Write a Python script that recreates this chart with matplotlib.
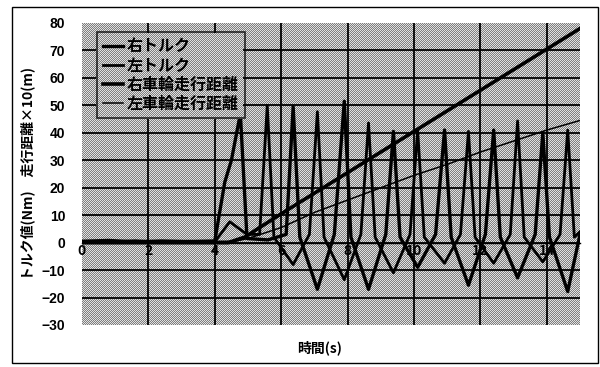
import numpy as np
import matplotlib
matplotlib.use("Agg")
import matplotlib.pyplot as plt
from matplotlib.patches import Rectangle

plt.rcParams['font.family'] = ['Noto Sans CJK JP', 'DejaVu Sans']
plt.rcParams['font.weight'] = 'bold'

# torque of the right wheel (s, Nm)
right_t = [0, 0.8, 1.6, 2.4, 3.2, 4.0, 4.3, 4.5, 4.77, 4.97, 5.6, 6.15, 6.36, 6.56,
           7.09, 7.6, 7.90, 8.10, 8.63, 9.15, 9.38, 9.58, 10.11, 10.65, 10.92, 11.12,
           11.64, 12.15, 12.40, 12.60, 13.12, 13.65, 13.88, 14.08, 14.63, 15.0]
right_torque = [0.5, 0.8, 0.3, 0.6, 0.4, 0.6, 22, 30, 47, 1.5, 1, 3, 49.5, 2,
                -17, 3, 51.5, 2, -17, 3, 40.5, 2, -9, 3, 41, 2,
                -15.5, 3, 41, 2, -12.8, 3, 40, 2, -17.8, 3]

# torque of the left wheel (s, Nm)
left_t = [0, 0.8, 1.6, 2.4, 3.2, 4.0, 4.45, 4.97, 5.35, 5.58, 5.78, 6.36, 6.85,
          7.09, 7.29, 7.90, 8.40, 8.63, 8.83, 9.38, 9.88, 10.11, 10.31, 10.92, 11.40,
          11.64, 11.84, 12.40, 12.90, 13.12, 13.32, 13.88, 14.40, 14.63, 14.83, 15.0]
left_torque = [0.3, 0.2, 0.7, 0.2, 0.5, 0.3, 7.6, 3, 3, 50, 2, -8, 3,
               47.7, 2, -13.5, 3, 43.6, 2, -11, 3, 41, 2, -7.5, 3,
               40.5, 2, -7.5, 3, 44.3, 2, -7, 3, 41, 2, 4]

# travelled distance x10 (m)
right_dist_t = [0, 4.4, 4.9, 6, 7, 8, 9, 10, 11, 12, 13, 14, 15]
right_dist = [0, 0, 2, 10.5, 18, 25.5, 33, 40.5, 48, 55.5, 63, 70.5, 78]
left_dist_t = [0, 4.6, 5, 6, 7, 8, 9, 10, 11, 12, 13, 14, 15]
left_dist = [0, 0.5, 1.5, 5.5, 11, 15.5, 20, 24.5, 28.5, 33, 37, 41, 44.5]

x_ticks = [0, 2, 4, 6, 8, 10, 12, 14]
y_ticks = [-30, -20, -10, 0, 10, 20, 30, 40, 50, 60, 70, 80]


def stipple(h, w):
    ii, jj = np.mgrid[0:h, 0:w]
    c = np.where((ii + jj) % 2 == 0, 0.5, 0.88)
    return np.dstack([c, c, c])


fig = plt.figure(figsize=(6, 3.67), dpi=100)
ax = fig.add_axes([82 / 600, 1 - 325 / 367, 498 / 600, 302 / 367])
ax.set_facecolor('none')

# stippled plot-area fill, placed pixel for pixel behind the axes
fig.figimage(stipple(302, 498), xo=82, yo=367 - 325, zorder=-1)

for x in x_ticks[1:]:
    ax.axvline(x, color='black', lw=1.3, zorder=1)
for y in y_ticks[1:-1]:
    ax.axhline(y, color='black', lw=1.3, zorder=1)

ax.plot(right_t, right_torque, color='black', lw=2.4, label='右トルク', zorder=3)
ax.plot(left_t, left_torque, color='black', lw=2.0, label='左トルク', zorder=3)
ax.plot(right_dist_t, right_dist, color='black', lw=2.6, label='右車輪走行距離', zorder=4)
ax.plot(left_dist_t, left_dist, color='black', lw=1.1, label='左車輪走行距離', zorder=4)

ax.set_xlim(0, 15)
ax.set_ylim(-30, 80)
ax.set_xticks(x_ticks)
ax.set_yticks(y_ticks)
ax.tick_params(axis='y', length=0, pad=12)
ax.tick_params(axis='x', length=0, pad=1)
for lab in ax.get_yticklabels():
    lab.set_fontfamily(['Liberation Sans', 'DejaVu Sans'])
    lab.set_fontsize(10)
    lab.set_fontweight('bold')
for lab in ax.get_xticklabels():
    lab.set_fontfamily(['Liberation Sans', 'DejaVu Sans'])
    lab.set_fontsize(8)
    lab.set_fontweight('bold')
for s in ['left', 'right', 'top']:
    ax.spines[s].set_visible(False)
ax.spines['bottom'].set_position(('data', 0))
ax.spines['bottom'].set_linewidth(1.0)

ax.set_ylabel('トルク値(Nm)　走行距離×10(m)', fontsize=10, fontweight='bold', labelpad=5)
fig.text(320 / 600, 1 - 348 / 367, '時間(s)', ha='center', va='center',
         fontsize=10, fontweight='bold')

handles, labels = ax.get_legend_handles_labels()
leg = fig.legend(handles, labels, loc='upper left',
                 bbox_to_anchor=(97 / 600, 1 - 32 / 367), frameon=True,
                 fancybox=False, facecolor='none', edgecolor='black', fontsize=11.5,
                 handlelength=1.2, handletextpad=0.25, labelspacing=0.2,
                 borderpad=0.4, borderaxespad=0)
leg.set_zorder(2)
leg.get_frame().set_linewidth(1.2)

# same fill inside the legend box so the grid does not run through it
fig.canvas.draw()
bb = leg.get_window_extent()
fig.figimage(stipple(int(bb.height), int(bb.width)), xo=int(bb.x0), yo=int(bb.y0), zorder=1)

fig.patches.append(Rectangle((12 / 600, 1 - 363 / 367), 586 / 600, 356 / 367,
                             transform=fig.transFigure, fill=False,
                             edgecolor='black', lw=1.0))

fig.savefig('out.png', dpi=100)
